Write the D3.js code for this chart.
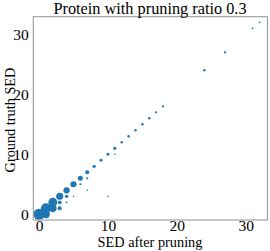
<!DOCTYPE html>
<html><head><meta charset="utf-8">
<script src="https://cdn.jsdelivr.net/npm/d3@7"></script>
<style>body{margin:0;background:#fff}svg{display:block}</style>
</head><body>
<script>
// SED after pruning (x), ground truth SED (y), relative frequency (marker area)
const prunedSED = [0,1,2,3,4,5,6,7,8,9,10,11,12,13,14,15,16,17,18,24,27,31,32, 1,2,3,3,4,4,5,6,7,7,10,11];
const trueSED   = [0,1,2,3,4,5,6,7,8,9,10,11,12,13,14,15,16,17,18,24,27,31,32, 0,1,1,2,3,2,3,5,6,4,3,10];
const freq      = [300,240,190,120,95,90,60,40,25,20,20,25,15,15,15,15,15,12,12,14,12,8,8, 150,140,40,35,25,8,6,10,12,6,6,6];
const xTicks = [0,10,20,30];
const yTicks = [0,10,20,30];
const title = "Protein with pruning ratio 0.3";
const xLabel = "SED after pruning";
const yLabel = "Ground truth SED";

const FONT = "'Liberation Serif', 'Times New Roman', serif";
const W = 270, H = 251;
const L = 33.3, R = 267.5, T = 16.7, B = 220;
const svg = d3.select("body").append("svg").attr("width", W).attr("height", H)
  .style("font-family", FONT);
const x = d3.scaleLinear().domain([-0.83, 33.16]).range([L, R]);
const y = d3.scaleLinear().domain([-0.95, 32.94]).range([B, T]);
const r = d3.scaleSqrt().domain([0, 300]).range([0, 5.6]);

const pts = prunedSED.map((v, i) => ({x: v, y: trueSED[i], f: freq[i]}));
pts.sort((a, b) => b.f - a.f);
svg.append("g").selectAll("circle").data(pts).join("circle")
  .attr("cx", d => x(d.x)).attr("cy", d => y(d.y)).attr("r", d => r(d.f))
  .attr("fill", "#1f77b4");

svg.append("rect").attr("x", L).attr("y", T).attr("width", R - L).attr("height", B - T)
  .attr("fill", "none").attr("stroke", "#9a9a9a").attr("stroke-width", 1.1);

const xa = svg.append("g").attr("transform", `translate(0,${B})`)
  .call(d3.axisBottom(x).tickValues(xTicks).tickSize(0).tickPadding(0).tickFormat(d3.format("d")));
xa.attr("font-family", FONT).attr("font-size", 15.5);
xa.select(".domain").remove();
const ya = svg.append("g").attr("transform", `translate(${L},0)`)
  .call(d3.axisLeft(y).tickValues(yTicks).tickSize(0).tickPadding(4.5).tickFormat(d3.format("d")));
ya.attr("font-family", FONT).attr("font-size", 15.5);
ya.select(".domain").remove();
svg.selectAll(".tick text").attr("fill", "#000");

svg.append("text").attr("x", 150).attr("y", 14.4).attr("text-anchor", "middle")
  .attr("font-family", FONT).attr("font-size", 16.3).attr("fill", "#000").text(title);
svg.append("text").attr("x", 150).attr("y", 247).attr("text-anchor", "middle")
  .attr("font-family", FONT).attr("font-size", 14.3).attr("fill", "#000").text(xLabel);
svg.append("text").attr("transform", `translate(15,120) rotate(-90)`)
  .attr("text-anchor", "middle").attr("font-family", FONT).attr("font-size", 14.3)
  .attr("fill", "#000").text(yLabel);
</script>
</body></html>
